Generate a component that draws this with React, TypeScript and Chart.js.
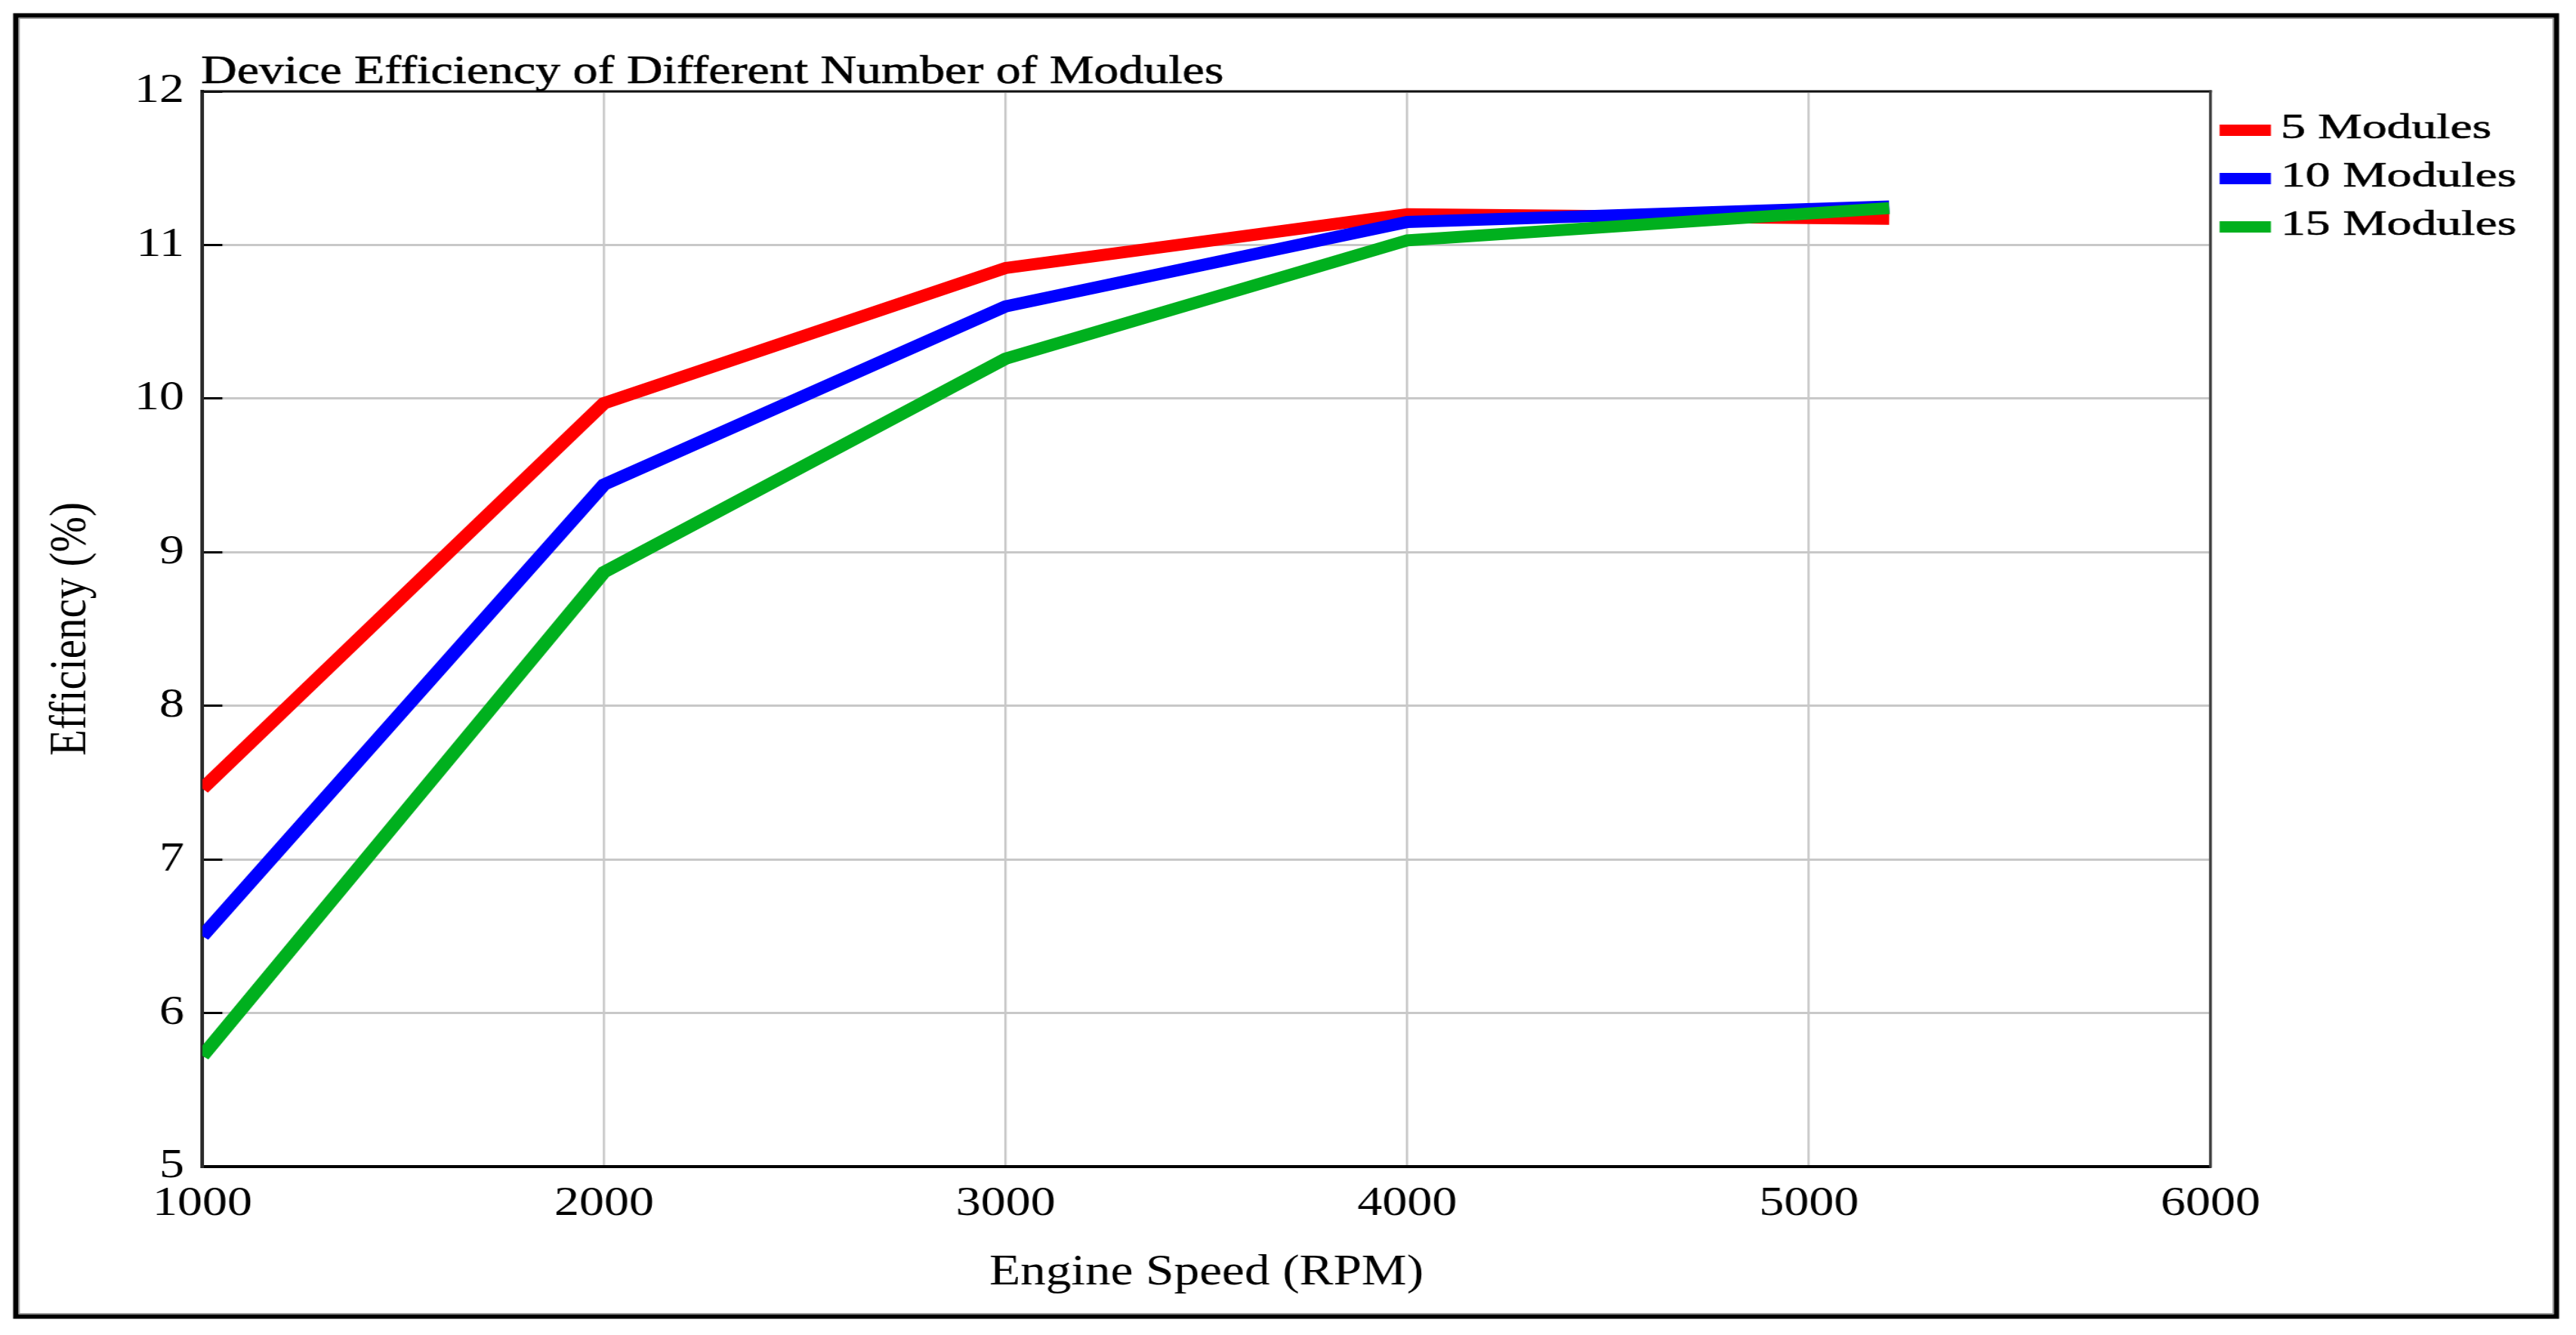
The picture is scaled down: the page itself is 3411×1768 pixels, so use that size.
import React, { useEffect, useRef } from 'react';
import { Chart, registerables } from 'chart.js';

Chart.register(...registerables);

// ---- data ----
const rpm = [1000, 2000, 3000, 4000, 5200];
const modules5 = [7.46, 9.97, 10.85, 11.2, 11.17];
const modules10 = [6.5, 9.44, 10.6, 11.15, 11.25];
const modules15 = [5.72, 8.87, 10.26, 11.03, 11.24];
const seriesLabels = ['5 Modules', '10 Modules', '15 Modules'];
const seriesColors = ['#ff0000', '#0000ff', '#00b01e'];
const xTickValues = [1000, 2000, 3000, 4000, 5000, 6000];
const yTickValues = [5, 6, 7, 8, 9, 10, 11, 12];
const chartTitle = 'Device Efficiency of Different Number of Modules';
const xAxisTitle = 'Engine Speed (RPM)';
const yAxisTitle = 'Efficiency (%)';

// ---- layout (canvas is drawn narrower and stretched horizontally like the reference) ----
const W = 3411;
const H = 1768;
const CW = 2842;
const SX = W / CW;
const PLOT_LEFT = 268 / SX;
const PLOT_RIGHT = 2927 / SX;
const PLOT_TOP = 121;
const PLOT_BOTTOM = 1545;
const FAMILY = '"Liberation Serif", "Times New Roman", serif';

function drawWideText(ctx: any, text: string, x: number, y: number, font: string, stretch: number) {
  ctx.save();
  ctx.translate(x, y);
  ctx.scale(stretch, 1);
  ctx.font = font;
  ctx.textAlign = 'left';
  ctx.textBaseline = 'alphabetic';
  ctx.fillStyle = '#000000';
  ctx.strokeStyle = '#000000';
  ctx.lineWidth = 0.6;
  ctx.fillText(text, 0, 0);
  ctx.strokeText(text, 0, 0);
  ctx.restore();
}

const decorPlugin = {
  id: 'decor',
  beforeDraw(chart: any) {
    const ctx = chart.ctx;
    ctx.save();
    ctx.fillStyle = '#ffffff';
    ctx.fillRect(0, 0, chart.width, chart.height);
    ctx.strokeStyle = '#000000';
    ctx.lineWidth = 6;
    const l = 21 / SX, r = 3385 / SX, t = 20.5, b = 1743.5;
    ctx.strokeRect(l, t, r - l, b - t);
    ctx.strokeStyle = '#9a9a9a';
    ctx.lineWidth = 1.5;
    ctx.strokeRect(l + 3.5, t + 3.8, r - l - 7, b - t - 7.6);
    ctx.restore();
  },
  beforeDatasetsDraw(chart: any) {
    const { ctx, chartArea: a } = chart;
    ctx.save();
    ctx.lineCap = 'square';
    ctx.strokeStyle = '#111111';
    ctx.lineWidth = 3;
    ctx.beginPath();
    ctx.moveTo(a.left, a.top);
    ctx.lineTo(a.right, a.top);
    ctx.stroke();
    ctx.strokeStyle = '#3a3a3a';
    ctx.beginPath();
    ctx.moveTo(a.right, a.top);
    ctx.lineTo(a.right, a.bottom);
    ctx.stroke();
    ctx.restore();
  },
  afterDraw(chart: any) {
    const { ctx, chartArea: a } = chart;
    // title
    drawWideText(ctx, chartTitle, a.left - 1.5, 110, `52px ${FAMILY}`, 1.055);
    // legend
    const swX = 2939 / SX;
    const swW = 68 / SX;
    const txX = 3020 / SX;
    seriesLabels.forEach((label, i) => {
      const cy = 172.5 + i * 64;
      ctx.save();
      ctx.fillStyle = seriesColors[i];
      ctx.fillRect(swX, cy - 7.5, swW, 15);
      ctx.restore();
      drawWideText(ctx, label, txX, cy + 10.5, `47px ${FAMILY}`, 1.165);
    });
  },
};

export default function App() {
  const ref = useRef<HTMLCanvasElement>(null);

  useEffect(() => {
    const canvas = ref.current;
    if (!canvas) return;
    const series = [modules5, modules10, modules15];
    const chart = new Chart(canvas, {
      type: 'line',
      data: {
        datasets: series.map((vals, i) => ({
          label: seriesLabels[i],
          data: rpm.map((x, j) => ({ x, y: vals[j] })),
          borderColor: seriesColors[i],
          backgroundColor: seriesColors[i],
          borderWidth: 16,
          pointRadius: 0,
          pointHoverRadius: 0,
          tension: 0,
          fill: false,
          order: 3 - i,
        })),
      },
      options: {
        animation: false,
        responsive: false,
        devicePixelRatio: 1,
        events: [],
        layout: {
          padding: { left: 0, top: PLOT_TOP, right: CW - PLOT_RIGHT, bottom: 0 },
        },
        plugins: {
          legend: { display: false },
          title: { display: false },
          tooltip: { enabled: false },
        },
        scales: {
          x: {
            type: 'linear',
            min: 1000,
            max: 6000,
            afterBuildTicks: (s: any) => {
              s.ticks = xTickValues.map((v) => ({ value: v }));
            },
            afterFit: (s: any) => {
              s.height = H - PLOT_BOTTOM;
            },
            grid: { color: '#c8c8c8', lineWidth: 2.5, drawTicks: false },
            border: { display: true, color: '#000000', width: 4 },
            ticks: {
              color: '#000000',
              font: { family: FAMILY, size: 55 },
              padding: 17,
              maxRotation: 0,
              autoSkip: false,
              callback: (v: any) => String(v),
            },
            title: {
              display: true,
              text: xAxisTitle,
              color: '#000000',
              font: { family: FAMILY, size: 56 },
              padding: { top: 0, bottom: 48 },
            },
          },
          y: {
            type: 'linear',
            min: 5,
            max: 12,
            afterBuildTicks: (s: any) => {
              s.ticks = yTickValues.map((v) => ({ value: v }));
            },
            afterFit: (s: any) => {
              s.width = PLOT_LEFT;
            },
            grid: {
              color: '#c8c8c8',
              lineWidth: 3,
              drawTicks: true,
              tickLength: -22,
              tickColor: '#000000',
              tickWidth: 3,
            },
            border: { display: true, color: '#2a2a2a', width: 4 },
            ticks: {
              color: '#000000',
              font: { family: FAMILY, size: 55 },
              padding: 42,
              callback: (v: any) => String(v),
            },
            title: {
              display: true,
              text: yAxisTitle,
              color: '#000000',
              font: { family: FAMILY, size: 57 },
              padding: { top: 45, bottom: 0 },
            },
          },
        },
      } as any,
      plugins: [decorPlugin],
    });
    return () => chart.destroy();
  }, []);

  return (
    <canvas
      ref={ref}
      width={CW}
      height={H}
      style={{
        position: 'fixed',
        left: 0,
        top: 0,
        width: `${W}px`,
        height: `${H}px`,
        display: 'block',
      }}
    />
  );
}
